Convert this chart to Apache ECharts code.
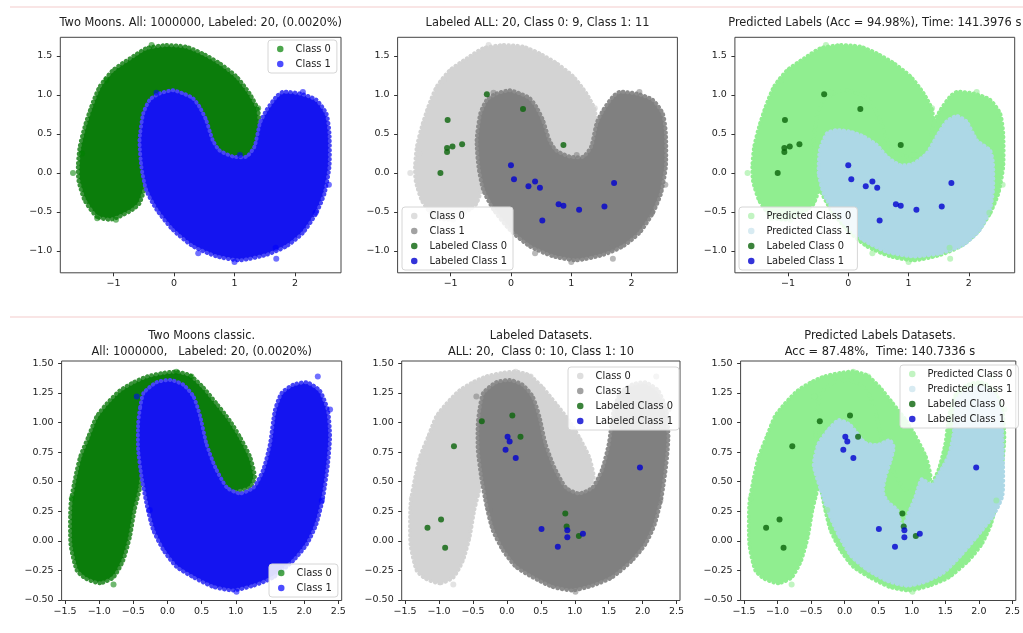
<!DOCTYPE html>
<html><head><meta charset="utf-8">
<script src="https://cdn.jsdelivr.net/npm/echarts@6/dist/echarts.min.js"></script>
<style>html,body{margin:0;padding:0;background:#fff}#c{width:1023px;height:633px}</style>
</head><body><div id="c"></div>
<script>
// ---------- data ----------
// Top row: outlines of the two point clouds (x, y)
const topMoon0 = [[-1.28,-0.56],[-1.48,-0.35],[-1.58,-0.1],[-1.59,0.1],[-1.56,0.34],[-1.48,0.59],[-1.37,0.85],[-1.23,1.11],[-1.01,1.32],[-0.73,1.47],[-0.46,1.60],[-0.13,1.64],[0.2,1.62],[0.48,1.53],[0.75,1.41],[1.03,1.24],[1.25,1.02],[1.39,0.81],[1.42,0.51],[1.36,0.29],[1.2,0.2],[1.05,0.18],[0.8,0.15],[0.6,0.3],[0.4,0.5],[0.1,0.6],[-0.2,0.55],[-0.4,0.35],[-0.5,0.1],[-0.48,-0.18],[-0.57,-0.39],[-0.68,-0.47],[-0.9,-0.56],[-1.06,-0.6]];
const topMoon1 = [[-0.57,0.42],[-0.51,0.76],[-0.40,0.94],[-0.24,1.02],[-0.02,1.06],[0.15,1.02],[0.31,0.96],[0.42,0.85],[0.53,0.68],[0.64,0.42],[0.75,0.29],[0.98,0.21],[1.2,0.21],[1.33,0.34],[1.42,0.64],[1.53,0.81],[1.69,0.98],[1.80,1.04],[2.08,1.02],[2.35,0.94],[2.52,0.76],[2.57,0.51],[2.57,0.08],[2.49,-0.26],[2.35,-0.52],[2.13,-0.77],[1.86,-0.94],[1.53,-1.05],[1.09,-1.12],[0.70,-1.07],[0.31,-0.94],[-0.02,-0.73],[-0.29,-0.47],[-0.46,-0.22],[-0.54,0.08]];
const topOut0 = [[-1.67,0.0],[-1.27,-0.58],[-0.96,-0.6],[-1.12,1.19],[-0.37,1.64],[1.39,0.83],[-1.52,0.25]];
const topOut1 = [[1.69,-1.10],[1.68,-0.96],[0.40,-1.03],[2.34,-0.51],[2.56,-0.15],[-0.29,1.03],[1.09,0.23],[2.13,1.04],[1.0,-1.14]];
// Top row: region predicted as class 1 (plot 3)
const topPred1 = [[-0.49,0.0],[-0.47,0.295],[-0.35,0.51],[-0.19,0.55],[0.03,0.53],[0.25,0.47],[0.47,0.36],[0.64,0.21],[0.86,0.10],[1.08,0.12],[1.30,0.25],[1.47,0.47],[1.63,0.66],[1.80,0.73],[1.96,0.66],[2.13,0.42],[2.35,0.29],[2.40,0.12],[2.40,-0.22],[2.35,-0.47],[2.18,-0.73],[1.91,-0.92],[1.52,-1.03],[1.08,-1.07],[0.64,-1.01],[0.25,-0.86],[-0.03,-0.67],[-0.25,-0.47],[-0.41,-0.26]];
// Top row labeled points
const topLab0 = [[-0.40,1.01],[-1.05,0.68],[-1.06,0.32],[-1.06,0.27],[-0.97,0.34],[-0.81,0.37],[-1.17,0.0],[0.20,0.82],[0.87,0.36]];
const topLab1 = [[0.0,0.10],[0.05,-0.08],[0.29,-0.17],[0.40,-0.11],[0.48,-0.19],[0.79,-0.40],[0.87,-0.42],[1.13,-0.47],[1.55,-0.43],[1.71,-0.13],[0.52,-0.61]];

// Bottom row: outlines of the two point clouds
const botMoon0 = [[-0.99,-0.36],[-1.2,-0.32],[-1.33,-0.25],[-1.42,-0.03],[-1.42,0.31],[-1.35,0.54],[-1.28,0.71],[-1.16,0.88],[-1.04,1.05],[-0.89,1.16],[-0.70,1.27],[-0.50,1.34],[-0.30,1.39],[-0.06,1.42],[0.13,1.43],[0.33,1.40],[0.52,1.30],[0.72,1.16],[0.91,1.02],[1.06,0.88],[1.21,0.71],[1.28,0.54],[1.21,0.45],[0.96,0.41],[0.82,0.43],[0.65,0.5],[0.45,0.75],[0.3,1.0],[0.1,1.1],[-0.2,1.0],[-0.35,0.7],[-0.40,0.45],[-0.48,0.26],[-0.55,0.03],[-0.65,-0.17],[-0.79,-0.31]];
const botMoon1 = [[-0.40,1.13],[-0.35,1.25],[-0.16,1.34],[0.04,1.36],[0.23,1.32],[0.38,1.22],[0.48,1.05],[0.57,0.82],[0.70,0.62],[0.87,0.45],[1.06,0.40],[1.26,0.45],[1.40,0.60],[1.50,0.82],[1.57,1.10],[1.67,1.25],[1.84,1.32],[2.04,1.34],[2.23,1.27],[2.35,1.10],[2.38,0.88],[2.35,0.65],[2.28,0.37],[2.18,0.14],[2.04,-0.03],[1.84,-0.17],[1.55,-0.31],[1.26,-0.38],[0.96,-0.42],[0.67,-0.39],[0.38,-0.31],[0.13,-0.22],[-0.06,-0.08],[-0.21,0.09],[-0.30,0.29],[-0.38,0.54],[-0.43,0.77],[-0.43,0.99]];
const botOut0 = [[-0.79,-0.37],[-1.40,0.36],[0.35,1.39],[0.13,1.43]];
const botOut1 = [[2.20,1.39],[2.38,1.11],[1.01,-0.43],[2.26,0.34],[-0.45,1.22],[-0.26,0.26]];
// Bottom row: region predicted as class 1 (plot 6)
const botPred1 = [[-0.46,0.64],[-0.39,0.82],[-0.24,0.94],[-0.09,1.02],[0.08,0.98],[0.30,0.83],[0.49,0.81],[0.67,0.85],[0.73,0.79],[0.68,0.67],[0.60,0.53],[0.57,0.41],[0.64,0.33],[0.78,0.26],[0.86,0.10],[0.96,0.24],[1.06,0.38],[1.15,0.52],[1.30,0.47],[1.42,0.58],[1.55,0.72],[1.62,0.89],[1.68,1.2],[1.85,1.28],[2.04,1.30],[2.22,1.24],[2.33,1.08],[2.36,0.64],[2.35,0.38],[2.21,0.21],[1.96,0.03],[1.72,-0.13],[1.47,-0.27],[1.18,-0.35],[0.93,-0.38],[0.64,-0.34],[0.35,-0.25],[0.10,-0.13],[-0.09,0.05],[-0.24,0.24],[-0.36,0.44]];
// Bottom row labeled points
const botLab0 = [[-0.37,1.01],[0.08,1.06],[0.20,0.88],[-0.78,0.80],[0.86,0.23],[0.88,0.12],[1.06,0.04],[-1.17,0.11],[-0.97,0.18],[-0.91,-0.06]];
const botLab1 = [[0.01,0.88],[0.04,0.84],[-0.02,0.77],[0.13,0.70],[1.96,0.62],[0.51,0.10],[0.89,0.09],[0.89,0.03],[1.12,0.06],[0.75,-0.05]];

// Axis ticks
const topXTicks = [-1,0,1,2];
const topYTicks = [-1,-0.5,0,0.5,1,1.5];
const botXTicks = [-1.5,-1,-0.5,0,0.5,1,1.5,2,2.5];
const botYTicks = [-0.5,-0.25,0,0.25,0.5,0.75,1,1.25,1.5];

// Titles
const titles = [
  "Two Moons. All: 1000000, Labeled: 20, (0.0020%)",
  "Labeled ALL: 20, Class 0: 9, Class 1: 11",
  "Predicted Labels (Acc = 94.98%), Time: 141.3976 s",
  "Two Moons classic.\nAll: 1000000,   Labeled: 20, (0.0020%)",
  "Labeled Datasets.\nALL: 20,  Class 0: 10, Class 1: 10",
  "Predicted Labels Datasets.\nAcc = 87.48%,  Time: 140.7336 s"
];

// ---------- layout ----------
const grids = [
  {left:60.3, top:37.3, width:280.7, height:235.5},
  {left:397.6, top:37.3, width:279.8, height:235.5},
  {left:734.9, top:37.3, width:279.8, height:235.5},
  {left:61.6, top:361, width:280.1, height:239.5},
  {left:401.7, top:361, width:278.3, height:239.5},
  {left:740.6, top:361, width:279.6, height:239.5}
];
const topX = [-1.88, 2.76], topY = [-1.28, 1.74];
const botX = [-1.55, 2.55], botY = [-0.505, 1.52];
const FONT = '"DejaVu Sans", sans-serif';

function fmt(v, d){ return (v < 0 ? '\u2212' : '') + Math.abs(v).toFixed(d); }

function axis(gi, range, ticks, dec, isX){
  return {
    type:'value', gridIndex:gi, min:range[0], max:range[1],
    position: isX ? 'bottom' : 'left',
    axisLine:{show:false, onZero:false},
    splitLine:{show:false},
    axisTick:{show:true, length:3.5, customValues:ticks, lineStyle:{color:'#333', width:1}},
    axisLabel:{customValues:ticks, formatter:v=>fmt(v,dec), fontSize:9.5, color:'#222', fontFamily:FONT, margin: isX?6:8, hideOverlap:false}
  };
}

function poly(name, gi, pts, fill, edge){
  return {
    type:'custom', name:name, xAxisIndex:gi, yAxisIndex:gi, data:pts, encode:{x:0,y:1},
    silent:true, itemStyle:{color:fill},
    renderItem:function(params, api){
      if (params.dataIndex !== 0) return null;
      const P = pts.map(p => api.coord(p));
      return {type:'polygon', shape:{points:P, smooth:0.2},
        style:{fill:fill, stroke:edge, lineWidth:4, lineDash:[0.5,4], lineCap:'round'}};
    }
  };
}
function pts(name, gi, data, color, size){
  return {type:'scatter', name:name, xAxisIndex:gi, yAxisIndex:gi, data:data,
    symbol:'circle', symbolSize:size, itemStyle:{color:color}, silent:true, animation:false};
}

const C = {
  g:'#0b7d0b', gE:'#3a933a', b:'#1414f0', bE:'#4646f5',
  lg:'#d3d3d3', gr:'#808080', grE:'#8c8c8c',
  lgr:'#90ee90', lbl:'#add8e6',
  labG:'#0a640a', labB:'#0000d0'
};

const series = [
  // plot 1
  poly('Class 0|1',0,topMoon0,C.g,C.gE),
  pts('o0|1',0,topOut0,'rgba(0,128,0,0.7)',6),
  poly('Class 1|1',0,topMoon1,C.b,C.bE),
  pts('o1|1',0,topOut1,'rgba(0,0,255,0.7)',6),
  // plot 2
  poly('Class 0|2',1,topMoon0,C.lg,C.lg),
  pts('o0|2',1,topOut0,'rgba(211,211,211,0.8)',6),
  poly('Class 1|2',1,topMoon1,C.gr,C.grE),
  pts('o1|2',1,topOut1,'rgba(128,128,128,0.7)',6),
  pts('Labeled Class 0|2',1,topLab0,C.labG,6),
  pts('Labeled Class 1|2',1,topLab1,C.labB,6),
  // plot 3
  poly('Predicted Class 0|3',2,topMoon0,C.lgr,C.lgr),
  poly('Predicted Class 0|3',2,topMoon1,C.lgr,C.lgr),
  pts('o0|3',2,topOut0.concat(topOut1),'rgba(144,238,144,0.7)',6),
  poly('Predicted Class 1|3',2,topPred1,C.lbl,C.lbl),
  pts('Labeled Class 0|3',2,topLab0,C.labG,6),
  pts('Labeled Class 1|3',2,topLab1,C.labB,6),
  // plot 4
  poly('Class 0|4',3,botMoon0,C.g,C.gE),
  pts('o0|4',3,botOut0,'rgba(0,128,0,0.7)',6),
  poly('Class 1|4',3,botMoon1,C.b,C.bE),
  pts('o1|4',3,botOut1,'rgba(0,0,255,0.7)',6),
  // plot 5
  poly('Class 0|5',4,botMoon0,C.lg,C.lg),
  pts('o0|5',4,botOut0,'rgba(211,211,211,0.8)',6),
  poly('Class 1|5',4,botMoon1,C.gr,C.grE),
  pts('o1|5',4,botOut1,'rgba(128,128,128,0.7)',6),
  pts('Labeled Class 0|5',4,botLab0,C.labG,6),
  pts('Labeled Class 1|5',4,botLab1,C.labB,6),
  // plot 6
  poly('Predicted Class 0|6',5,botMoon0,C.lgr,C.lgr),
  poly('Predicted Class 0|6',5,botMoon1,C.lgr,C.lgr),
  pts('o0|6',5,botOut0.concat(botOut1),'rgba(144,238,144,0.7)',6),
  poly('Predicted Class 1|6',5,botPred1,C.lbl,C.lbl),
  pts('Labeled Class 0|6',5,botLab0,C.labG,6),
  pts('Labeled Class 1|6',5,botLab1,C.labB,6)
];

function legend(left, top, items){
  return {
    left:left, top:top, orient:'vertical', selectedMode:false,
    icon:'circle', itemWidth:6.5, itemHeight:6.5, itemGap:5,
    padding:[4,6,4,9],
    backgroundColor:'rgba(255,255,255,0.85)', borderColor:'#d6d6d6', borderWidth:1, borderRadius:3,
    textStyle:{fontSize:9.9, color:'#222', fontFamily:FONT, padding:[0,0,0,7]},
    formatter:n => n.split('|')[0],
    data: items.map(it => ({name:it[0], icon:'circle', itemStyle:{color:it[1], borderWidth:0}}))
  };
}

const legends = [
  legend(268, 40, [['Class 0|1','rgba(0,128,0,0.7)'],['Class 1|1','rgba(0,0,255,0.7)']]),
  legend(402, 207, [['Class 0|2','#dedede'],['Class 1|2','#a2a2a2'],['Labeled Class 0|2',C.labG],['Labeled Class 1|2',C.labB]]),
  legend(739, 207, [['Predicted Class 0|3','#c2f4c2'],['Predicted Class 1|3','#d8ebf2'],['Labeled Class 0|3',C.labG],['Labeled Class 1|3',C.labB]]),
  legend(269, 564, [['Class 0|4','rgba(0,128,0,0.7)'],['Class 1|4','rgba(0,0,255,0.7)']]),
  legend(568, 367, [['Class 0|5','#dedede'],['Class 1|5','#a2a2a2'],['Labeled Class 0|5',C.labG],['Labeled Class 1|5',C.labB]]),
  legend(900, 365, [['Predicted Class 0|6','#c2f4c2'],['Predicted Class 1|6','#d8ebf2'],['Labeled Class 0|6',C.labG],['Labeled Class 1|6',C.labB]])
];

const titlePos = [[200.7,23],[537.5,23],[874.8,23],[201.7,344],[541,344],[880,344]];
const graphic = [
  {type:'line', shape:{x1:10,y1:7,x2:1023,y2:7}, style:{stroke:'#f7dcdc', lineWidth:1.5}, silent:true},
  {type:'line', shape:{x1:10,y1:317,x2:1023,y2:317}, style:{stroke:'#f7dcdc', lineWidth:1.5}, silent:true}
].concat(titles.map((t,i) => ({
  type:'text', x:titlePos[i][0], y:titlePos[i][1], silent:true,
  style:{text:t, align:'center', verticalAlign:'middle', fontSize:11.4, fontFamily:FONT, fill:'#222', lineHeight:16.5}
})));

const xAxis = [], yAxis = [];
for (let i=0;i<6;i++){
  const top = i<3;
  xAxis.push(axis(i, top?topX:botX, top?topXTicks:botXTicks, top?0:1, true));
  yAxis.push(axis(i, top?topY:botY, top?topYTicks:botYTicks, top?1:2, false));
}

const chart = echarts.init(document.getElementById('c'), null, {renderer:'canvas'});
chart.setOption({
  animation:false,
  backgroundColor:'#ffffff',
  grid: grids.map(g => Object.assign({show:true, borderColor:'#444', borderWidth:1, backgroundColor:'transparent', containLabel:false}, g)),
  xAxis:xAxis, yAxis:yAxis,
  legend:legends,
  graphic:graphic,
  series:series
});
</script>
</body></html>
